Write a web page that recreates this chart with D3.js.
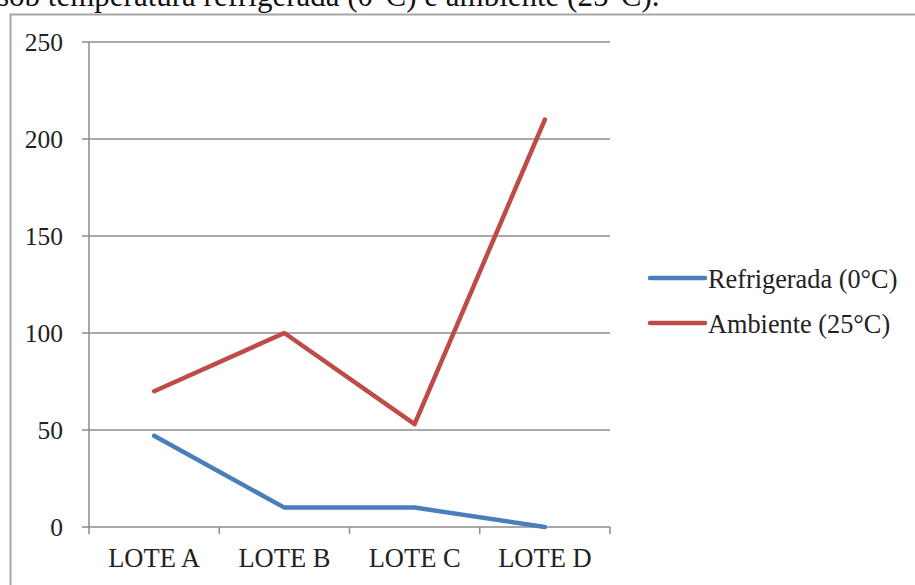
<!DOCTYPE html>
<html lang="pt">
<head>
<meta charset="UTF-8">
<title>Refrigerada vs Ambiente</title>
<script src="https://d3js.org/d3.v7.min.js"></script>
<style>
  body { margin: 0; background: #fff; }
  svg { display: block; font-family: "Liberation Serif", "Times New Roman", serif; }
</style>
</head>
<body>
<svg id="chart"></svg>
<script>
const categories = ["LOTE A", "LOTE B", "LOTE C", "LOTE D"];
const refrigerada = [47, 10, 10, 0];
const ambiente = [70, 100, 53, 210];
const yTicks = [0, 50, 100, 150, 200, 250];
const seriesNames = ["Refrigerada (0°C)", "Ambiente (25°C)"];
const seriesColors = ["#4a7ebb", "#be4b48"];

const width = 915, height = 585;
const svg = d3.select("#chart").attr("width", width).attr("height", height);

// caption cut off at the top of the crop
svg.append("text")
  .attr("x", -3).attr("y", 6)
  .attr("font-size", 31).attr("fill", "#111")
  .text("sob temperatura refrigerada (0°C) e ambiente (25°C).");

// chart frame
svg.append("path")
  .attr("d", "M10.5,600V14.5H920")
  .attr("fill", "none").attr("stroke", "#a6a6a6").attr("stroke-width", 2);

const x = d3.scaleBand().domain(categories).range([89, 610]).padding(0);
const y = d3.scaleLinear().domain([0, 250]).range([527, 42]);
const cx = d => x(d) + x.bandwidth() / 2;

// gridlines + y tick marks
svg.append("g").selectAll("line").data(yTicks).join("line")
  .attr("x1", 82).attr("x2", 610)
  .attr("y1", d => y(d)).attr("y2", d => y(d))
  .attr("stroke", "#8c8c8c").attr("stroke-width", 1.5);

// y axis line
svg.append("line")
  .attr("x1", 89).attr("x2", 89).attr("y1", y(250)).attr("y2", y(0))
  .attr("stroke", "#8c8c8c").attr("stroke-width", 1.5);

// x tick marks at band edges
const edges = categories.map(c => x(c)).concat([x.range()[1]]);
svg.append("g").selectAll("line").data(edges).join("line")
  .attr("x1", d => d).attr("x2", d => d)
  .attr("y1", y(0)).attr("y2", y(0) + 7)
  .attr("stroke", "#8c8c8c").attr("stroke-width", 1.5);

svg.append("g").selectAll("text").data(yTicks).join("text")
  .attr("x", 63).attr("y", d => y(d) + 9)
  .attr("text-anchor", "end").attr("font-size", 25.5).attr("fill", "#222")
  .text(d => d);

svg.append("g").selectAll("text").data(categories).join("text")
  .attr("x", d => cx(d)).attr("y", 567)
  .attr("text-anchor", "middle").attr("font-size", 26.5).attr("fill", "#222")
  .text(d => d);

const line = d3.line().x((d, i) => cx(categories[i])).y(d => y(d));
[refrigerada, ambiente].forEach((vals, i) => {
  svg.append("path")
    .attr("d", line(vals))
    .attr("fill", "none").attr("stroke", seriesColors[i])
    .attr("stroke-width", 4.5).attr("stroke-linejoin", "round").attr("stroke-linecap", "round");
});

// legend
const legend = svg.append("g").selectAll("g").data(seriesNames).join("g")
  .attr("transform", (d, i) => `translate(650,${278 + i * 45})`);
legend.append("line")
  .attr("x1", 0).attr("x2", 55)
  .attr("stroke", (d, i) => seriesColors[i]).attr("stroke-width", 4.5).attr("stroke-linecap", "round");
legend.append("text")
  .attr("x", 58).attr("y", 10)
  .attr("font-size", 26.3).attr("fill", "#222")
  .text(d => d);
</script>
</body>
</html>
